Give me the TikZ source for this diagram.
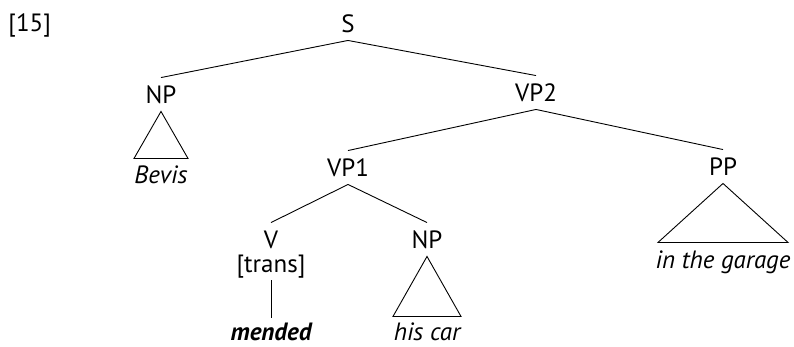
\documentclass[tikz,border=0pt]{standalone}
\usepackage{fontspec}
\setmainfont{PT Sans}

\begin{document}
\begin{tikzpicture}[x=1pt, y=-1pt, line width=0.9pt,
    cat/.style={anchor=base, text height=17pt, text depth=0pt, inner xsep=0pt, inner ysep=8pt, font=\fontsize{25}{30}\selectfont},
    feat/.style={cat},
    leaf/.style={cat, inner ysep=1pt, font=\fontsize{25}{30}\selectfont\itshape}]
    \useasboundingbox (0,0) rectangle (794,346);

    \node (Num) [cat, anchor=base west] at (8,31) {[15]};

    % categories
    \node (S) [cat] at (348,32) {S};
    \node (NPsubj) [cat] at (161,103) {NP};
    \node (VPtwo) [cat] at (536,101) {VP2};
    \node (VPone) [cat] at (348,176) {VP1};
    \node (PP) [cat] at (723,175) {PP};
    \node (V) [cat] at (271,248) {V};
    \node (Trans) [feat] at (271,272) {[trans]};
    \node (NPobj) [cat] at (427,248) {NP};

    % words
    \node (Bevis) [leaf] at (161,183) {Bevis};
    \node (Garage) [leaf] at (723,268) {in the garage};
    \node (Mended) [leaf, font=\fontsize{25}{30}\selectfont\bfseries\itshape] at (271,340) {mended};
    \node (Car) [leaf] at (427,340) {his car};

    \draw (S.south) -- (NPsubj.north);
    \draw (S.south) -- (VPtwo.north);
    \draw (VPtwo.south) -- (VPone.north);
    \draw (VPtwo.south) -- (PP.north);
    \draw (VPone.south) -- (V.north);
    \draw (VPone.south) -- (NPobj.north);
    \draw[shorten >=4pt] (Trans.south) -- (Mended.north);

    % triangles
    \draw (NPsubj.south) -- ++(-27,47) -- ++(54,0) -- cycle;
    \draw (NPobj.south) -- ++(-34,60) -- ++(68,0) -- cycle;
    \draw (PP.south) -- ++(-65,59) -- ++(130,0) -- cycle;
\end{tikzpicture}
\end{document}
